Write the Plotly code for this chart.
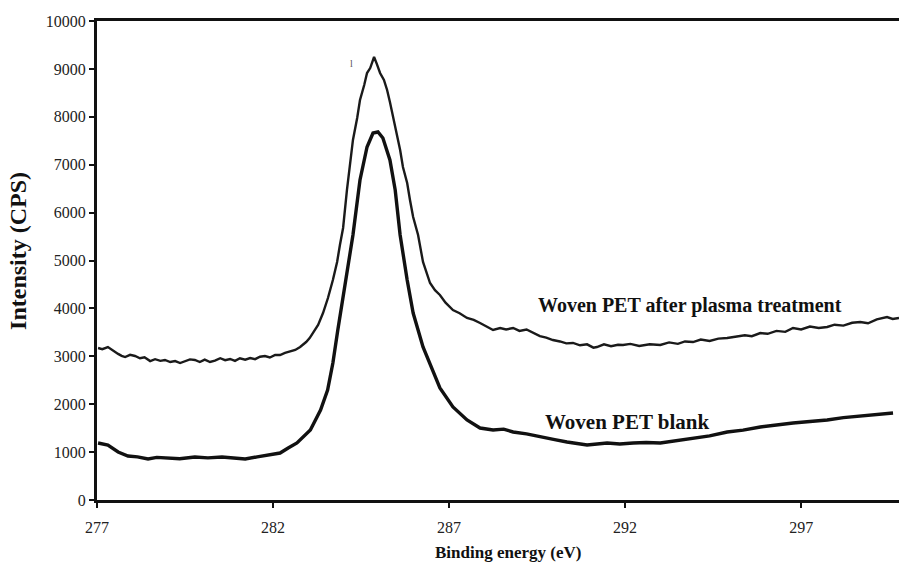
import plotly.graph_objects as go

# Binding energy (eV) and intensity (CPS)
treated_x = [277.03, 277.15, 277.31, 277.45, 277.60, 277.70, 277.80, 277.94, 278.08, 278.22,
             278.35, 278.51, 278.65, 278.80, 278.93, 279.08, 279.22, 279.36, 279.50, 279.64,
             279.78, 279.92, 280.06, 280.21, 280.35, 280.50, 280.64, 280.78, 280.92, 281.06,
             281.21, 281.35, 281.49, 281.63, 281.77, 281.91, 282.06, 282.20, 282.34, 282.48,
             282.63, 282.77, 282.94, 283.04, 283.14, 283.28, 283.42,
             283.56, 283.70, 283.82, 283.90, 283.99, 284.10, 284.19, 284.27, 284.39, 284.47,
             284.59, 284.67, 284.76, 284.87, 284.95, 285.04, 285.15, 285.24, 285.32, 285.41,
             285.52, 285.61, 285.69, 285.81, 285.89, 285.98, 286.12, 286.26, 286.46, 286.60,
             286.74, 286.90, 287.11, 287.30, 287.51, 287.70, 287.88, 288.05, 288.25, 288.45,
             288.62, 288.82, 289.00, 289.20, 289.39, 289.58, 289.76, 289.95, 290.15, 290.33,
             290.52, 290.72, 290.92, 291.10, 291.20, 291.40, 291.60, 291.80, 291.94, 292.15,
             292.40, 292.70, 293.00, 293.25, 293.50, 293.70, 293.93, 294.15, 294.40, 294.65,
             294.90, 295.15, 295.40, 295.60, 295.84, 296.05, 296.30, 296.55, 296.77, 297.00,
             297.25, 297.50, 297.74, 297.95, 298.20, 298.45, 298.68, 298.90, 299.15, 299.44,
             299.60, 299.78]
treated_y = [3173, 3150, 3194, 3120, 3050, 3010, 2985, 3030, 3006, 2960,
             2980, 2900, 2940, 2905, 2923, 2880, 2900, 2860, 2890, 2935,
             2923, 2880, 2930, 2881, 2910, 2960, 2920, 2944, 2905, 2960,
             2930, 2964, 2940, 2990, 3006, 2975, 3030, 3027, 3070, 3100,
             3132, 3194, 3298, 3380, 3486, 3653, 3904,
             4217, 4593, 4969, 5324, 5679, 6472, 6994, 7516, 7975, 8351,
             8664, 8914, 9018, 9248, 9101, 8914, 8768, 8560, 8309, 7996,
             7662, 7307, 6952, 6618, 6263, 5908, 5532, 4969, 4530, 4380,
             4280, 4120, 3967, 3900, 3800, 3760, 3695, 3620, 3549, 3590,
             3560, 3591, 3530, 3560, 3486, 3420, 3390, 3340, 3310, 3270,
             3278, 3230, 3250, 3180, 3194, 3250, 3210, 3240, 3236, 3260,
             3215, 3250, 3236, 3290, 3260, 3310, 3298, 3350, 3320, 3370,
             3382, 3410, 3440, 3420, 3486, 3470, 3530, 3510, 3591, 3560,
             3620, 3590, 3612, 3660, 3640, 3700, 3716, 3690, 3770, 3820,
             3780, 3800]

blank_x = [277.03, 277.31, 277.60, 277.88, 278.15, 278.45, 278.70, 279.02, 279.35, 279.78,
           280.15, 280.55, 280.90, 281.21, 281.55, 281.86,
           282.20, 282.43, 282.68, 283.06, 283.35, 283.55, 283.70, 283.84, 283.99, 284.13,
           284.27, 284.47, 284.67, 284.84, 284.98, 285.12, 285.32, 285.47, 285.61, 285.81,
           285.98, 286.26, 286.66, 286.74, 287.11, 287.51, 287.88, 288.25, 288.55, 288.82,
           289.20, 289.59, 290.00, 290.35, 290.92, 291.49, 291.85, 292.23, 292.60, 293.00,
           293.45, 293.93, 294.40, 294.90, 295.35, 295.84, 296.30, 296.77, 297.25, 297.74,
           298.20, 298.68, 299.15, 299.61]
blank_y = [1190, 1148, 1002, 919, 900, 856, 890, 877, 860, 898,
           880, 898, 870, 856, 900, 940,
           981, 1086, 1190, 1461, 1879, 2296, 2860, 3549, 4238, 4948,
           5532, 6681, 7370, 7662, 7683, 7558, 7098, 6472, 5532, 4593,
           3904, 3194, 2505, 2338, 1942, 1670, 1503, 1461, 1480, 1420,
           1380, 1315, 1260, 1211, 1148, 1190, 1170, 1190, 1200, 1190,
           1240, 1294, 1340, 1420, 1460, 1524, 1570, 1607, 1640, 1670,
           1720, 1754, 1790, 1816]

x_ticks = [277, 282, 287, 292, 297]
y_ticks = [0, 1000, 2000, 3000, 4000, 5000, 6000, 7000, 8000, 9000, 10000]

SERIF = "Liberation Serif, Times New Roman, serif"

fig = go.Figure()
fig.add_trace(go.Scatter(x=treated_x, y=treated_y, mode="lines",
                         line=dict(color="#1a1a1a", width=2.4), name="Woven PET after plasma treatment"))
fig.add_trace(go.Scatter(x=blank_x, y=blank_y, mode="lines",
                         line=dict(color="#111111", width=3.4), name="Woven PET blank"))

fig.add_annotation(x=293.85, y=4071, text="<b>Woven PET after plasma treatment</b>",
                   showarrow=False, font=dict(family=SERIF, size=20, color="#111"))
fig.add_annotation(x=292.06, y=1628, text="<b>Woven PET blank</b>",
                   showarrow=False, font=dict(family=SERIF, size=21, color="#111"))
fig.add_annotation(x=284.24, y=9123, text="l", showarrow=False,
                   font=dict(family=SERIF, size=10, color="#555"))

fig.add_annotation(xref="paper", yref="paper", x=-0.0985, y=0.52, textangle=-90,
                   xanchor="center", yanchor="middle",
                   text="<b>Intensity (CPS)</b>", showarrow=False,
                   font=dict(family=SERIF, size=24, color="#111"))
fig.add_annotation(xref="paper", yref="paper", x=0.5125, y=-0.1086,
                   xanchor="center", yanchor="middle",
                   text="<b>Binding energy (eV)</b>", showarrow=False,
                   font=dict(family=SERIF, size=17, color="#111"))

fig.update_layout(
    width=899, height=566,
    margin=dict(l=97, r=0, t=21, b=66),
    paper_bgcolor="white", plot_bgcolor="white",
    showlegend=False,
    font=dict(family=SERIF, color="#111"),
)
fig.update_xaxes(range=[277, 299.78], tickvals=x_ticks, ticktext=[str(v) for v in x_ticks],
                 ticks="outside", ticklen=5, tickwidth=1.5, tickcolor="#111",
                 ticklabelstandoff=6,
                 showline=True, linewidth=3, linecolor="#111", mirror=True,
                 showgrid=False, zeroline=False, tickfont=dict(family=SERIF, size=16, color="#222"))
fig.update_yaxes(range=[0, 10000], tickvals=y_ticks, ticktext=[str(v) for v in y_ticks],
                 ticks="outside", ticklen=5, tickwidth=1.5, tickcolor="#111",
                 showline=True, linewidth=3, linecolor="#111",
                 showgrid=False, zeroline=False, tickfont=dict(family=SERIF, size=16, color="#222"))

fig.write_html("out.html")
